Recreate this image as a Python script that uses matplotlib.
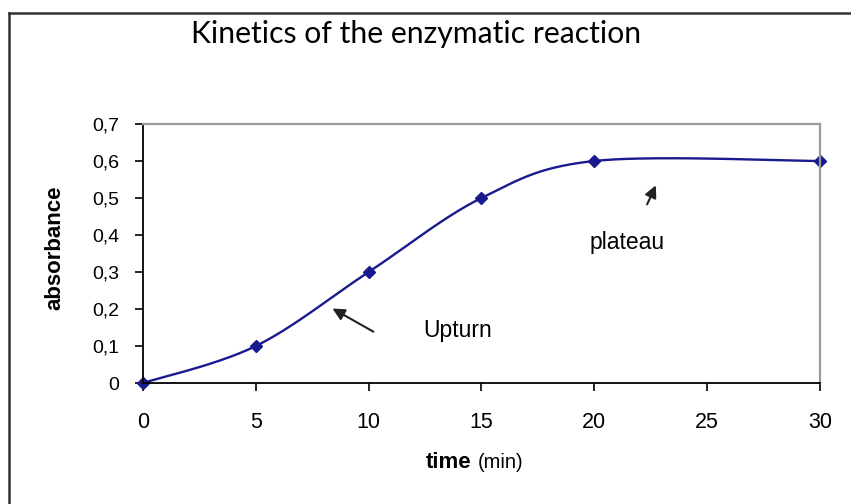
import numpy as np
import matplotlib
matplotlib.use("Agg")
import matplotlib.pyplot as plt
from matplotlib.lines import Line2D

# data
time_min = [0, 5, 10, 15, 20, 30]
absorbance = [0, 0.1, 0.3, 0.5, 0.6, 0.6]
x_ticks = [0, 5, 10, 15, 20, 25, 30]
y_ticks = [0, 0.1, 0.2, 0.3, 0.4, 0.5, 0.6, 0.7]
y_labels = ["0", "0,1", "0,2", "0,3", "0,4", "0,5", "0,6", "0,7"]

plt.rcParams['font.family'] = ['Liberation Sans', 'DejaVu Sans']

fig = plt.figure(figsize=(8.51, 5.04), dpi=100)
ax = fig.add_axes([0.168, 0.240, 0.7955, 0.514])

# excel-like smoothed line: bezier through the points, done in pixel-ish space
W, H = 677.0, 259.0
px = np.array(time_min) / 30.0 * W
py = np.array(absorbance) / 0.7 * H
pts = np.column_stack([px, py])
P = np.vstack([pts[0], pts, pts[-1]])
curve = []
t = np.linspace(0, 1, 40)[:, None]
for i in range(1, len(P) - 2):
    p0, p1, p2, p3 = P[i - 1], P[i], P[i + 1], P[i + 2]
    c1 = p1 + (p2 - p0) / 6.0
    c2 = p2 - (p3 - p1) / 6.0
    seg = ((1 - t) ** 3) * p1 + 3 * ((1 - t) ** 2) * t * c1 + 3 * (1 - t) * t ** 2 * c2 + t ** 3 * p2
    curve.append(seg)
curve = np.vstack(curve)
ax.plot(curve[:, 0] / W * 30.0, curve[:, 1] / H * 0.7, color='#1a1a90', lw=1.7, clip_on=False)
ax.plot(time_min, absorbance, 'D', color='#1a1a90', ms=6, clip_on=False)

ax.set_xlim(0, 30)
ax.set_ylim(0, 0.7)
ax.set_xticks(x_ticks)
ax.set_xticklabels([str(v) for v in x_ticks])
ax.set_yticks(y_ticks)
ax.set_yticklabels(y_labels)
ax.tick_params(direction='out', length=6, width=1.2)
ax.tick_params(axis='y', labelsize=14, pad=11)
ax.tick_params(axis='x', labelsize=15.5, pad=15)
for s in ['left', 'bottom']:
    ax.spines[s].set_color('black')
    ax.spines[s].set_linewidth(1.3)
for s in ['top', 'right']:
    ax.spines[s].set_color('#999999')
    ax.spines[s].set_linewidth(1.6)

fig.text(0.065, 0.508, 'absorbance', fontsize=16, fontweight='bold',
         rotation=90, ha='center', va='center')

fig.text(0.5006, 0.083, 'time', fontsize=16, fontweight='bold', ha='left', va='center')
fig.text(0.5617, 0.083, '(min)', fontsize=14.5, ha='left', va='center')

fig.text(0.489, 0.933, 'Kinetics of the enzymatic reaction', fontsize=21.7,
         family=['Lato', 'Liberation Sans'], ha='center', va='center')

# annotations
ax.annotate('', xy=(8.29, 0.205), xytext=(10.32, 0.135),
            arrowprops=dict(arrowstyle='-|>', color='#222222', lw=1.5, mutation_scale=18))
ax.text(12.41, 0.143, 'Upturn', fontsize=16.5, va='center', ha='left')
ax.annotate('', xy=(22.78, 0.541), xytext=(22.29, 0.476),
            arrowprops=dict(arrowstyle='-|>', color='#222222', lw=1.5, mutation_scale=18))
ax.text(19.81, 0.381, 'plateau', fontsize=16.5, va='center', ha='left')

# outer chart border
fig.add_artist(Line2D([0.0105, 0.0105], [0.0, 0.975], color='#333333', lw=1.8))
fig.add_artist(Line2D([0.0105, 1.0], [0.975, 0.975], color='#333333', lw=1.8))

fig.savefig('out.png', dpi=100)
